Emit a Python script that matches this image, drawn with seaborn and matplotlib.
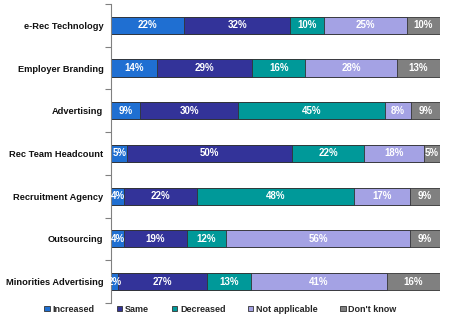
import matplotlib
matplotlib.use("Agg")
import matplotlib.pyplot as plt
from matplotlib.patches import Patch
from matplotlib.ticker import FixedLocator
import numpy as np
import pandas as pd
import seaborn as sns

categories = ["e-Rec Technology", "Employer Branding", "Advertising",
              "Rec Team Headcount", "Recruitment Agency", "Outsourcing",
              "Minorities Advertising"]
series_names = ["Increased", "Same", "Decreased", "Not applicable", "Don't know"]
increased = [22, 14, 9, 5, 4, 4, 2]
same = [32, 29, 30, 50, 22, 19, 27]
decreased = [10, 16, 45, 22, 48, 12, 13]
not_applicable = [25, 28, 8, 18, 17, 56, 41]
dont_know = [10, 13, 9, 5, 9, 9, 16]
colors = ["#1F6FD2", "#333399", "#009999", "#A4A2E4", "#808080"]

sns.set_theme(style="white")
plt.rcParams["font.family"] = ["Liberation Sans", "DejaVu Sans"]

values = np.array([increased, same, decreased, not_applicable, dont_know], dtype=float)
# 100% stacked: each row is scaled to its own total
shares = values / values.sum(axis=0) * 100
cum = np.cumsum(shares, axis=0)

fig = plt.figure(figsize=(4.5, 3.24), dpi=100)
ax = fig.add_axes([0.2467, 0.0648, 0.731, 0.923])

# draw cumulative totals from the widest down so each segment shows
for i in range(len(series_names) - 1, -1, -1):
    df = pd.DataFrame({"category": categories, "value": cum[i]})
    sns.barplot(data=df, x="value", y="category", orient="h", color=colors[i],
                saturation=1, width=0.4, edgecolor="#333333", linewidth=0.6,
                ax=ax)

# value labels in the middle of each segment
for i in range(len(series_names)):
    starts = cum[i] - shares[i]
    for j, cat in enumerate(categories):
        ax.text(starts[j] + shares[i, j] / 2, j,
                f"{int(values[i, j])}%", ha="center", va="center",
                color="white", fontsize=7, fontweight="bold")

ax.set_xlim(0, 100)
ax.set_ylim(6.5, -0.5)
ax.set_xlabel("")
ax.set_ylabel("")
ax.xaxis.set_visible(False)
for side in ["top", "right", "bottom"]:
    ax.spines[side].set_visible(False)
ax.spines["left"].set_color("#808080")
ax.spines["left"].set_linewidth(0.8)

ax.yaxis.set_minor_locator(FixedLocator(np.arange(-0.5, 7.0, 1.0)))
ax.tick_params(axis="y", which="major", length=0, pad=5.5, labelsize=6.7)
ax.tick_params(axis="y", which="minor", left=True, length=4, width=0.8,
               color="#808080", direction="out")
for lbl in ax.get_yticklabels():
    lbl.set_fontweight("bold")
    lbl.set_color("#111111")

handles = [Patch(facecolor=c, edgecolor="#333333", linewidth=0.6) for c in colors]
fig.legend(handles, series_names, loc="center", bbox_to_anchor=(0.49, 0.046),
           ncol=5, frameon=False, handlelength=0.6, handleheight=0.6,
           handletextpad=0.3, columnspacing=2.5,
           prop={"size": 6.5, "weight": "bold"})

fig.savefig("out.png", dpi=100)
